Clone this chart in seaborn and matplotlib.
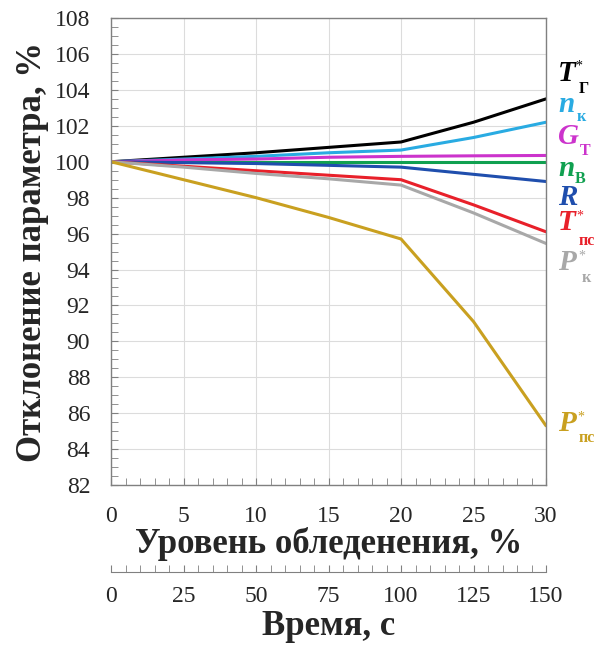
import numpy as np
import pandas as pd
import seaborn as sns
import matplotlib.pyplot as plt
from matplotlib.ticker import MultipleLocator

# icing level, % (one point every 5 %)
icing = [0, 5, 10, 15, 20, 25, 30]

t_g = [100.0, 100.25, 100.5, 100.8, 101.1, 102.2, 103.5]
n_k = [100.0, 100.15, 100.3, 100.5, 100.65, 101.35, 102.2]
g_t = [100.0, 100.1, 100.15, 100.25, 100.3, 100.33, 100.35]
n_v = [100.0, 100.0, 100.0, 100.0, 100.0, 100.0, 100.0]
r_d = [100.0, 99.95, 99.9, 99.8, 99.7, 99.3, 98.9]
t_ps = [100.0, 99.75, 99.5, 99.25, 99.0, 97.6, 96.1]
p_k = [100.0, 99.7, 99.35, 99.05, 98.7, 97.15, 95.45]
p_ps = [100.0, 99.0, 98.0, 96.9, 95.7, 91.1, 85.3]

# time axis, s
time_ticks = [0, 25, 50, 75, 100, 125, 150]

names = ["T_g", "n_k", "G_t", "n_v", "R", "T_ps", "P_k", "P_ps"]
series = [t_g, n_k, g_t, n_v, r_d, t_ps, p_k, p_ps]
colors = ["#000000", "#29ABE2", "#CC33CC", "#10A050", "#1F4EAD",
          "#E8202A", "#A8A8A8", "#C9A020"]

# end-of-line labels: letter, has star, subscript
letters = ["T", "n", "G", "n", "R", "T", "P", "P"]
stars = [True, False, False, False, False, True, True, True]
subs = ["Г", "к", "Т", "В", "", "пс", "к", "пс"]
label_y = [104.94, 103.21, 101.38, 99.65, 98.03, 96.59, 94.37, 85.4]
# pixel offsets of star / subscript from the letter
star_dx = [17, 0, 0, 0, 0, 18, 20, 19]
sub_dx = [21, 19, 22, 17, 0, 21, 24, 21]
sub_dy = [-16, -13, -14, -11, 0, -18, -15, -14]

sns.set_style("ticks")
plt.rcParams["font.family"] = ["Liberation Serif", "DejaVu Serif"]

df = pd.DataFrame({
    "icing": np.tile(icing, len(names)),
    "value": np.concatenate(series),
    "param": np.repeat(names, len(icing)),
})

fig = plt.figure(figsize=(5.97, 6.45), dpi=100)
ax = fig.add_axes([0.186, 0.248, 0.7286, 0.724])

sns.lineplot(data=df, x="icing", y="value", hue="param", hue_order=names,
             palette=dict(zip(names, colors)), lw=2.2, legend=False, ax=ax)

ax.set_xlim(0, 30)
ax.set_ylim(82, 108)
ax.xaxis.set_major_locator(MultipleLocator(5))
ax.xaxis.set_minor_locator(MultipleLocator(1))
ax.yaxis.set_major_locator(MultipleLocator(2))
ax.yaxis.set_minor_locator(MultipleLocator(0.5))
ax.grid(True, which="major", color="#dcdcdc", lw=0.8)
ax.set_axisbelow(True)
for sp in ax.spines.values():
    sp.set_color("#808080")
    sp.set_linewidth(1)
ax.tick_params(which="both", direction="in", length=5, color="#808080",
               labelsize=17, pad=15)

ax.set_xlabel("Уровень обледенения, %", fontsize=25, fontweight="bold", labelpad=0)
ax.set_ylabel("Отклонение параметра, %", fontsize=25, fontweight="bold", labelpad=4)

for i in range(len(names)):
    c = colors[i]
    ax.text(30.83, label_y[i], letters[i], color=c, fontsize=21,
            fontweight="bold", fontstyle="italic", va="center", ha="left",
            clip_on=False)
    if stars[i]:
        ax.annotate("*", xy=(30.83, label_y[i]), xytext=(star_dx[i], 7),
                    textcoords="offset pixels", color=c, fontsize=10,
                    va="center", ha="left", annotation_clip=False)
    if subs[i]:
        ax.annotate(subs[i], xy=(30.83, label_y[i]), xytext=(sub_dx[i], sub_dy[i]),
                    textcoords="offset pixels", color=c, fontsize=11.5,
                    fontweight="bold", va="center", ha="left",
                    annotation_clip=False)

sec = ax.secondary_xaxis(-0.186, functions=(lambda x: x * 5, lambda x: x / 5))
sec.set_xticks(time_ticks)
sec.xaxis.set_minor_locator(MultipleLocator(5))
sec.spines["bottom"].set_color("#808080")
sec.tick_params(which="both", direction="in", length=5, color="#808080",
                labelsize=17, pad=10)
sec.set_xlabel("Время, с", fontsize=25, fontweight="bold", labelpad=2)

fig.savefig("out.png", dpi=100)
